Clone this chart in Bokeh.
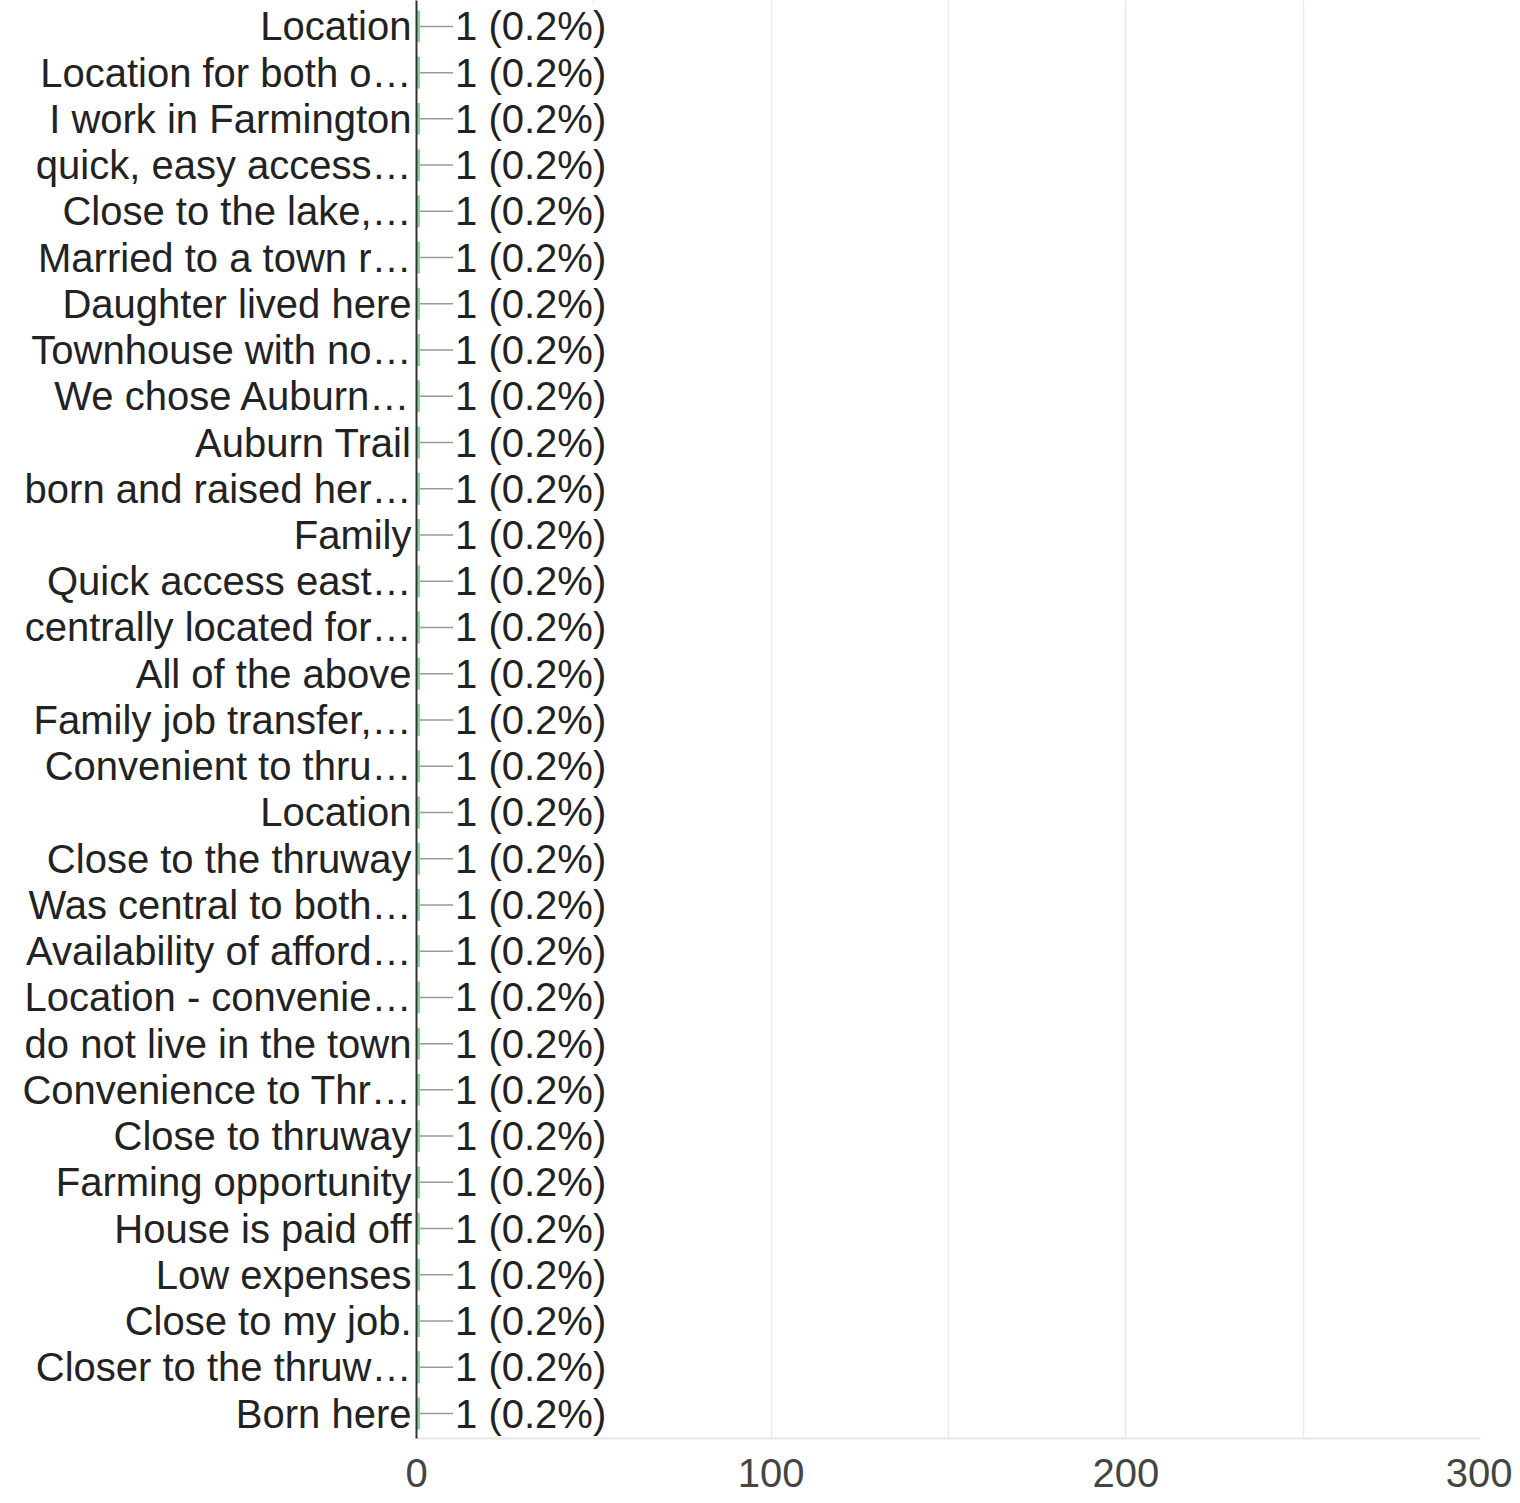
from bokeh.plotting import figure
from bokeh.models import Range1d, FixedTicker, ColumnDataSource
from bokeh.core.properties import value
from bokeh.embed import file_html
from bokeh.resources import INLINE

categories = [
    "Location", "Location for both o\u2026", "I work in Farmington", "quick, easy access\u2026",
    "Close to the lake,\u2026", "Married to a town r\u2026", "Daughter lived here",
    "Townhouse with no\u2026", "We chose Auburn\u2026", "Auburn Trail", "born and raised her\u2026",
    "Family", "Quick access east\u2026", "centrally located for\u2026", "All of the above",
    "Family job transfer,\u2026", "Convenient to thru\u2026", "Location", "Close to the thruway",
    "Was central to both\u2026", "Availability of afford\u2026", "Location - convenie\u2026",
    "do not live in the town", "Convenience to Thr\u2026", "Close to thruway",
    "Farming opportunity", "House is paid off", "Low expenses", "Close to my job.",
    "Closer to the thruw\u2026", "Born here",
]
counts = [1] * len(categories)
percents = ["0.2%"] * len(categories)
x_ticks = [0, 100, 200, 300]
grid_ticks = [0, 50, 100, 150, 200, 250, 300]

FONT = "Liberation Sans"
X_MAX = 300
FRAME_W = 1064
px_per_unit = FRAME_W / X_MAX
LEADER_PX = 33

pos = list(range(len(categories)))
labels = [f"{c} ({p})" for c, p in zip(counts, percents)]
src = ColumnDataSource(dict(
    y=pos, x=counts, lab=labels,
    lead_end=[c + LEADER_PX / px_per_unit for c in counts],
))

p = figure(width=1512, height=1503, output_backend="svg", toolbar_location=None,
           x_range=Range1d(0, X_MAX), y_range=Range1d(30.54, -0.56),
           min_border_left=416, min_border_right=32, min_border_top=0,
           min_border_bottom=65)
p.outline_line_color = None
p.background_fill_color = "white"

p.hbar(y="y", left=0, right="x", height=0.69, source=src,
       fill_color="#8fd19e", line_color=None)
p.segment(x0="x", y0="y", x1="lead_end", y1="y", source=src,
          line_color="#999999", line_width=1.5)
p.text(x="x", y="y", text="lab", source=src, x_offset=35,
       text_font=value(FONT), text_font_size="40px", text_color="#222222",
       text_baseline="middle", text_align="left",
       background_fill_color="white")

# x axis
p.xaxis.ticker = FixedTicker(ticks=x_ticks)
p.xgrid.ticker = FixedTicker(ticks=grid_ticks)
p.xgrid.grid_line_color = "#ebebeb"
p.xgrid.grid_line_width = 1.5
p.xaxis.axis_line_color = "#e6e6e6"
p.xaxis.axis_line_width = 2
p.xaxis.major_tick_line_color = None
p.xaxis.minor_tick_line_color = None
p.xaxis.major_tick_out = 0
p.xaxis.major_label_standoff = 20
p.xaxis.major_label_text_font = FONT
p.xaxis.major_label_text_font_size = "40px"
p.xaxis.major_label_text_color = "#444444"

# y axis
p.yaxis.ticker = FixedTicker(ticks=pos)
p.yaxis.major_label_overrides = {i: c for i, c in zip(pos, categories)}
p.ygrid.grid_line_color = None
p.yaxis.axis_line_color = "#333333"
p.yaxis.axis_line_width = 2
p.yaxis.major_tick_line_color = None
p.yaxis.minor_tick_line_color = None
p.yaxis.major_tick_out = 0
p.yaxis.major_label_standoff = 5
p.yaxis.major_label_text_font = FONT
p.yaxis.major_label_text_font_size = "40px"
p.yaxis.major_label_text_color = "#222222"

open("out.html", "w").write(file_html(p, INLINE))
